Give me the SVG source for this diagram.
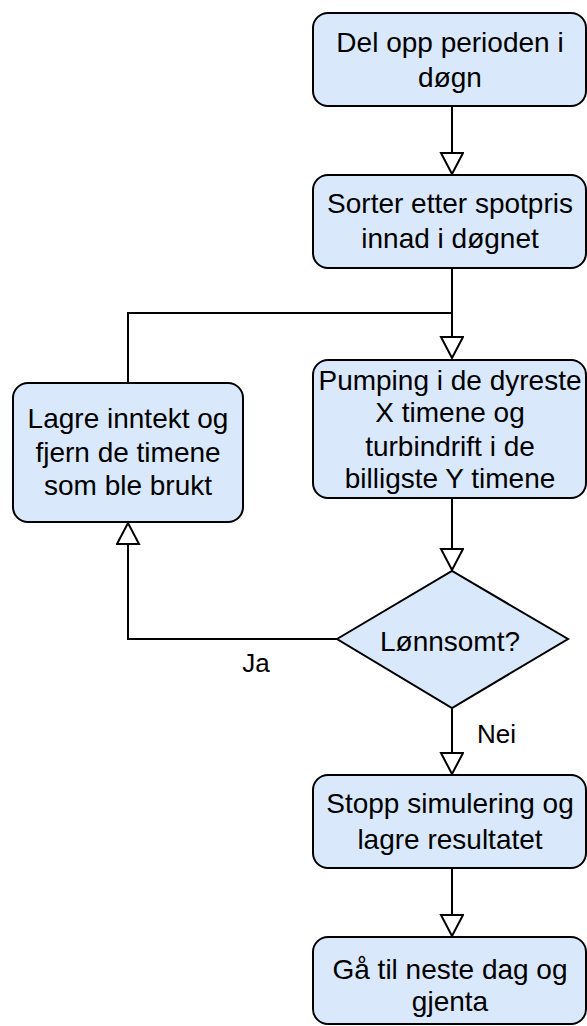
<svg xmlns="http://www.w3.org/2000/svg" width="587" height="1026" viewBox="0 0 587 1026">
<style>
.box{fill:#dae8fc;stroke:#000;stroke-width:2}
.t{font-family:"Liberation Sans",Arial,sans-serif;font-size:28px;fill:#000;text-anchor:middle}
.l{font-family:"Liberation Sans",Arial,sans-serif;font-size:26px;fill:#000}
.c{fill:none;stroke:#000;stroke-width:2}
</style>
<defs>
<marker id="arr" markerUnits="userSpaceOnUse" markerWidth="24" markerHeight="26" viewBox="-1 -1 24 26" refX="21" refY="11" orient="auto">
<path d="M0,0 L21,11 L0,22 Z" fill="#fff" stroke="#000" stroke-width="2"/>
</marker>
</defs>
<rect width="587" height="1026" fill="#fff"/>
<g id="connectors">
<path class="c" d="M452,106 V174" marker-end="url(#arr)"/>
<path class="c" d="M452,268 V358" marker-end="url(#arr)"/>
<path class="c" d="M128,383 V313 H452"/>
<path class="c" d="M452,498 V570" marker-end="url(#arr)"/>
<path class="c" d="M337,639 H128 V523" marker-end="url(#arr)"/>
<path class="c" d="M452,708 V774" marker-end="url(#arr)"/>
<path class="c" d="M452,868 V936" marker-end="url(#arr)"/>
<text class="l" x="256" y="672" text-anchor="middle">Ja</text>
<text class="l" x="477" y="743">Nei</text>
</g>
<g id="n1">
<rect class="box" x="313" y="13" width="273" height="93" rx="15"/>
<text class="t" x="450" y="52">Del opp perioden i</text>
<text class="t" x="450" y="87">døgn</text>
</g>
<g id="n2">
<rect class="box" x="313" y="175" width="273" height="93" rx="15"/>
<text class="t" x="450" y="213">Sorter etter spotpris</text>
<text class="t" x="450" y="248">innad i døgnet</text>
</g>
<g id="n3">
<rect class="box" x="313" y="360" width="273" height="138" rx="15"/>
<text class="t" x="450" y="390">Pumping i de dyreste</text>
<text class="t" x="450" y="422">X timene og</text>
<text class="t" x="450" y="456">turbindrift i de</text>
<text class="t" x="450" y="488">billigste Y timene</text>
</g>
<g id="n4">
<rect class="box" x="13" y="383" width="230" height="139" rx="15"/>
<text class="t" x="128" y="428">Lagre inntekt og</text>
<text class="t" x="128" y="462">fjern de timene</text>
<text class="t" x="128" y="495">som ble brukt</text>
</g>
<g id="n5">
<polygon class="box" points="337,639 452,571 568,639 452,708"/>
<text class="t" x="450" y="651">Lønnsomt?</text>
</g>
<g id="n6">
<rect class="box" x="313" y="775" width="273" height="93" rx="15"/>
<text class="t" x="450" y="813">Stopp simulering og</text>
<text class="t" x="450" y="849">lagre resultatet</text>
</g>
<g id="n7">
<rect class="box" x="313" y="937" width="273" height="87" rx="15"/>
<text class="t" x="450" y="979">Gå til neste dag og</text>
<text class="t" x="450" y="1011">gjenta</text>
</g>
</svg>
